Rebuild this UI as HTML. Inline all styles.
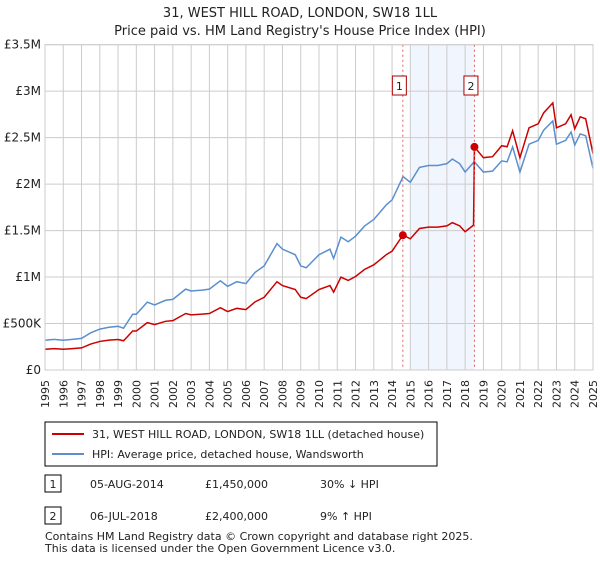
<!DOCTYPE html>
<html><head><meta charset="utf-8"><style>
body{margin:0;width:600px;height:560px;background:#fff;font-family:"Liberation Sans","DejaVu Sans",sans-serif;overflow:hidden}
svg text{font-family:"DejaVu Sans","Liberation Sans",sans-serif}
</style></head><body>
<svg id="c" width="600" height="560">
<text x="300" y="17" text-anchor="middle" font-size="13" fill="#222">31, WEST HILL ROAD, LONDON, SW18 1LL</text>
<text x="300" y="35" text-anchor="middle" font-size="13" fill="#222">Price paid vs. HM Land Registry's House Price Index (HPI)</text>
<g id="grid"></g><g id="plot"></g>
<g>
<rect x="45" y="422" width="392" height="44" fill="#fff" stroke="#000" stroke-width="1"/>
<line x1="52" y1="434" x2="84" y2="434" stroke="#cc0000" stroke-width="2"/>
<text x="92" y="438" font-size="11" fill="#222">31, WEST HILL ROAD, LONDON, SW18 1LL (detached house)</text>
<line x1="52" y1="454" x2="84" y2="454" stroke="#5b8fd0" stroke-width="2"/>
<text x="92" y="458" font-size="11" fill="#222">HPI: Average price, detached house, Wandsworth</text>
</g>
<g font-size="11" fill="#222">
<rect x="45" y="475" width="16" height="17" fill="#fff" stroke="#000"/><text x="53" y="488" text-anchor="middle">1</text>
<text x="90" y="488">05-AUG-2014</text><text x="205" y="488">£1,450,000</text><text x="320" y="488">30% ↓ HPI</text></g>
<g font-size="11" fill="#222">
<rect x="45" y="507" width="16" height="17" fill="#fff" stroke="#000"/><text x="53" y="520" text-anchor="middle">2</text>
<text x="90" y="520">06-JUL-2018</text><text x="205" y="520">£2,400,000</text><text x="320" y="520">9% ↑ HPI</text></g>
<text x="45" y="540" font-size="11" fill="#222">Contains HM Land Registry data © Crown copyright and database right 2025.</text>
<text x="45" y="552" font-size="11" fill="#222">This data is licensed under the Open Government Licence v3.0.</text>
</svg>
<script>
const hpiDates=[1995,1995.5,1996,1996.5,1997,1997.5,1998,1998.5,1999,1999.3,1999.8,2000,2000.6,2001,2001.6,2002,2002.7,2003,2003.6,2004,2004.6,2005,2005.5,2006,2006.5,2007,2007.7,2008,2008.7,2009,2009.3,2010,2010.6,2010.8,2011.2,2011.6,2012,2012.5,2013,2013.7,2014,2014.6,2015,2015.5,2016,2016.5,2017,2017.3,2017.7,2018,2018.5,2019,2019.5,2020,2020.3,2020.6,2021,2021.5,2022,2022.3,2022.8,2023,2023.5,2023.8,2024,2024.3,2024.6,2025];
const hpiValues=[0.32,0.33,0.32,0.33,0.34,0.40,0.44,0.46,0.47,0.45,0.60,0.60,0.73,0.70,0.75,0.76,0.87,0.85,0.86,0.87,0.96,0.90,0.95,0.93,1.05,1.12,1.36,1.30,1.24,1.12,1.10,1.24,1.30,1.20,1.43,1.38,1.44,1.55,1.62,1.78,1.83,2.08,2.02,2.18,2.20,2.20,2.22,2.27,2.22,2.13,2.24,2.13,2.14,2.25,2.24,2.40,2.13,2.43,2.47,2.58,2.68,2.43,2.47,2.56,2.42,2.54,2.52,2.17];
const saleDates=[2014.59,2018.51];
const salePrices=[1.45,2.40];
const saleLabels=["1","2"];
const yTicks=[0,0.5,1,1.5,2,2.5,3,3.5];
const yLabels=["£0","£500K","£1M","£1.5M","£2M","£2.5M","£3M","£3.5M"];
const years=[];for(let y=1995;y<=2025;y++)years.push(y);
const X0=45,X1=593,Y0=370,Y1=44.7;
const xs=d=>X0+(d-1995)/30*(X1-X0);
const ys=v=>Y0-v/3.5*(Y0-Y1);
const NS="http://www.w3.org/2000/svg";
function mk(tag,attrs,parent){const e=document.createElementNS(NS,tag);for(const k in attrs)e.setAttribute(k,attrs[k]);parent.appendChild(e);return e;}
const grid=document.getElementById('grid'),plot=document.getElementById('plot');
const sh=mk('rect',{x:xs(2015),y:Y1,width:xs(saleDates[1])-xs(2015),height:Y0-Y1,fill:'#eef3fc',opacity:0.8},grid);


years.forEach(y=>{const l=mk('line',{x1:xs(y),x2:xs(y),y1:Y1,y2:Y0,stroke:'#cccccc','stroke-width':1},grid);


const t=mk('text',{transform:`translate(${xs(y)+4},${Y0+38}) rotate(-90)`,'font-size':11,fill:'#222'},grid);t.textContent=y;

});
yTicks.forEach((v,i)=>{const l=mk('line',{x1:X0,x2:X1,y1:ys(v),y2:ys(v),stroke:'#cccccc','stroke-width':1},grid);


const t=mk('text',{x:X0-4,y:ys(v)+4,'text-anchor':'end','font-size':12,fill:'#222'},grid);t.textContent=yLabels[i];

});
const hp=mk('polyline',{points:hpiDates.map((d,i)=>xs(d)+','+ys(hpiValues[i])).join(' '),fill:'none',stroke:'#5b8fd0','stroke-width':1.5},plot);


function hpiAt(d){for(let i=1;i<hpiDates.length;i++){if(d<=hpiDates[i]){const f=(d-hpiDates[i-1])/(hpiDates[i]-hpiDates[i-1]);return hpiValues[i-1]+f*(hpiValues[i]-hpiValues[i-1]);}}return hpiValues[hpiValues.length-1];}
const r1=salePrices[0]/hpiAt(saleDates[0]),r2=salePrices[1]/hpiAt(saleDates[1]);
const pts=[];
hpiDates.forEach((d,i)=>{if(d<saleDates[1]-0.05)pts.push([d,hpiValues[i]*r1]);});
pts.push([saleDates[1]-0.05,hpiAt(saleDates[1]-0.05)*r1]);
pts.push([saleDates[1],salePrices[1]]);
hpiDates.forEach((d,i)=>{if(d>saleDates[1])pts.push([d,hpiValues[i]*r2]);});
const pr=mk('polyline',{points:pts.map(p=>xs(p[0])+','+ys(p[1])).join(' '),fill:'none',stroke:'#cc0000','stroke-width':1.5},plot);


saleDates.forEach((d,i)=>{
const l=mk('line',{x1:xs(d),x2:xs(d),y1:Y1,y2:Y0,stroke:'#e06060','stroke-width':1,'stroke-dasharray':'2,3'},plot);


const c=mk('circle',{cx:xs(d),cy:ys(salePrices[i]),r:4,fill:'#cc0000'},plot);


const b=mk('rect',{x:xs(d)-10.5,y:76,width:14,height:19,fill:'#fff',stroke:'#aa0000'},plot);


const t=mk('text',{x:xs(d)-3.5,y:90,'text-anchor':'middle','font-size':11,fill:'#222'},plot);t.textContent=saleLabels[i];

});
const fr=mk('rect',{x:X0,y:Y1,width:X1-X0,height:Y0-Y1,fill:'none',stroke:'#cccccc'},plot);


</script>
</body></html>
